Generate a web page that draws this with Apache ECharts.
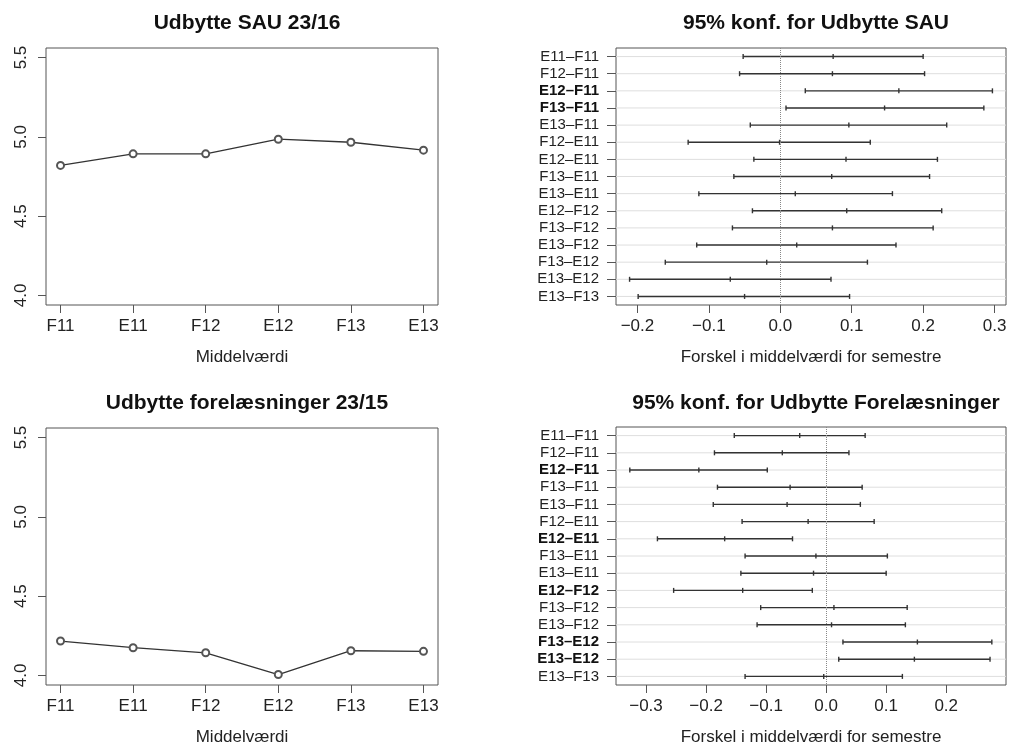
<!DOCTYPE html>
<html>
<head>
<meta charset="utf-8">
<script src="https://cdn.jsdelivr.net/npm/echarts@6/dist/echarts.min.js"></script>
<style>
html,body{margin:0;padding:0;background:#fff;}
#chart{width:1011px;height:747px;}
</style>
</head>
<body>
<div id="chart"></div>
<script>
// ---------- data ----------
const semesters = ['F11', 'E11', 'F12', 'E12', 'F13', 'E13'];
const sauMeans = [4.820, 4.893, 4.893, 4.985, 4.966, 4.916];
const lectureMeans = [4.217, 4.175, 4.143, 4.006, 4.156, 4.152];
const meanTicks = [4.0, 4.5, 5.0, 5.5];

const pairs = ['E11–F11', 'F12–F11', 'E12–F11', 'F13–F11', 'E13–F11',
               'F12–E11', 'E12–E11', 'F13–E11', 'E13–E11',
               'E12–F12', 'F13–F12', 'E13–F12',
               'F13–E12', 'E13–E12', 'E13–F13'];

const sauLower = [-0.052, -0.057, 0.035, 0.008, -0.042, -0.129, -0.037, -0.065, -0.114, -0.039, -0.067, -0.117, -0.161, -0.211, -0.199];
const sauDiff  = [0.074, 0.073, 0.166, 0.146, 0.096, -0.001, 0.092, 0.072, 0.021, 0.093, 0.073, 0.023, -0.019, -0.070, -0.050];
const sauUpper = [0.200, 0.202, 0.297, 0.285, 0.233, 0.126, 0.220, 0.209, 0.157, 0.226, 0.214, 0.162, 0.122, 0.071, 0.097];
const sauSignificant = ['E12–F11', 'F13–F11'];
const sauDiffTicks = [-0.2, -0.1, 0.0, 0.1, 0.2, 0.3];

const lecLower = [-0.153, -0.186, -0.327, -0.181, -0.188, -0.140, -0.281, -0.135, -0.142, -0.254, -0.109, -0.115, 0.028, 0.021, -0.135];
const lecDiff  = [-0.044, -0.073, -0.212, -0.060, -0.065, -0.030, -0.169, -0.017, -0.021, -0.139, 0.013, 0.009, 0.152, 0.147, -0.004];
const lecUpper = [0.065, 0.038, -0.098, 0.060, 0.057, 0.080, -0.056, 0.102, 0.100, -0.023, 0.135, 0.132, 0.276, 0.273, 0.127];
const lecSignificant = ['E12–F11', 'E12–E11', 'E12–F12', 'F13–E12', 'E13–E12'];
const lecDiffTicks = [-0.3, -0.2, -0.1, 0.0, 0.1, 0.2];

// ---------- chart ----------
const FONT = '"Liberation Sans", Arial, Helvetica, sans-serif';
const DARK = '#222';
const BOX = '#555';
const TICK_FS = 17;
const fmtNum = v => v.toFixed(1).replace('-', '\u2212');

const chart = echarts.init(document.getElementById('chart'), null, {renderer: 'canvas'});

const grids = [
  {left: 46, top: 48, width: 392, height: 257},
  {left: 616, top: 48, width: 390, height: 257},
  {left: 46, top: 428, width: 392, height: 257},
  {left: 616, top: 427, width: 390, height: 258}
].map(g => Object.assign({show: true, borderColor: BOX, borderWidth: 1, backgroundColor: 'transparent', containLabel: false}, g));

const titleStyle = {fontFamily: FONT, fontSize: 21, fontWeight: 'bold', color: '#111'};
const titles = [
  {text: 'Udbytte SAU 23/16', left: 242, top: 8},
  {text: '95% konf. for Udbytte SAU', left: 811, top: 8},
  {text: 'Udbytte forelæsninger 23/15', left: 242, top: 388},
  {text: '95% konf. for Udbytte Forelæsninger', left: 811, top: 388}
].map(t => Object.assign({textAlign: 'center', textStyle: titleStyle}, t));

const semesterPos = semesters.map((s, i) => i + 1);

function meanXAxis(gridIndex) {
  return {
    type: 'value', gridIndex, min: 0.8, max: 6.2,
    name: 'Middelværdi', nameLocation: 'middle', nameGap: 44,
    nameTextStyle: {fontFamily: FONT, fontSize: TICK_FS, color: DARK},
    axisLine: {show: false, onZero: false},
    axisTick: {show: true, inside: false, length: 8, customValues: semesterPos, lineStyle: {color: BOX}},
    axisLabel: {customValues: semesterPos, margin: 13, fontFamily: FONT, fontSize: TICK_FS, color: DARK,
      formatter: v => semesters[Math.round(v) - 1] || ''},
    splitLine: {show: false}
  };
}
function meanYAxis(gridIndex) {
  return {
    type: 'value', gridIndex, min: 3.94, max: 5.56,
    axisLine: {show: false, onZero: false},
    axisTick: {show: true, length: 8, customValues: meanTicks, lineStyle: {color: BOX}},
    axisLabel: {customValues: meanTicks, rotate: 90, margin: 16, fontFamily: FONT, fontSize: TICK_FS, color: DARK,
      formatter: v => fmtNum(v)},
    splitLine: {show: false}
  };
}
function diffXAxis(gridIndex, min, max, ticks) {
  return {
    type: 'value', gridIndex, min, max,
    name: 'Forskel i middelværdi for semestre', nameLocation: 'middle', nameGap: 44,
    nameTextStyle: {fontFamily: FONT, fontSize: TICK_FS, color: DARK},
    axisLine: {show: false, onZero: false},
    axisTick: {show: true, length: 8, customValues: ticks, lineStyle: {color: BOX}},
    axisLabel: {customValues: ticks, margin: 13, fontFamily: FONT, fontSize: TICK_FS, color: DARK,
      formatter: v => fmtNum(v)},
    splitLine: {show: false}
  };
}
function pairYAxis(gridIndex, significant) {
  return {
    type: 'category', gridIndex, inverse: true, boundaryGap: true,
    data: pairs.map(p => significant.includes(p)
      ? {value: p, textStyle: {fontWeight: 'bold', color: '#111'}}
      : {value: p}),
    axisLine: {show: false, onZero: false},
    axisTick: {show: true, alignWithLabel: true, length: 9, lineStyle: {color: BOX}},
    axisLabel: {margin: 17, fontFamily: FONT, fontSize: 15, color: DARK, interval: 0},
    splitLine: {show: false}
  };
}

function renderInterval(params, api) {
  const row = api.value(0);
  const pLo = api.coord([api.value(1), row]);
  const pMid = api.coord([api.value(2), row]);
  const pHi = api.coord([api.value(3), row]);
  const cs = params.coordSys;
  const y = pLo[1];
  const h = 2.5;
  const mark = x => ({type: 'line', shape: {x1: x, y1: y - h, x2: x, y2: y + h}, style: {stroke: '#333', lineWidth: 1.4}});
  return {
    type: 'group',
    children: [
      {type: 'line', shape: {x1: cs.x, y1: y, x2: cs.x + cs.width, y2: y}, style: {stroke: '#dedede', lineWidth: 1}},
      {type: 'line', shape: {x1: pLo[0], y1: y, x2: pHi[0], y2: y}, style: {stroke: '#333', lineWidth: 1.4}},
      mark(pLo[0]), mark(pMid[0]), mark(pHi[0])
    ]
  };
}

function intervalSeries(idx, lower, diff, upper) {
  return {
    type: 'custom', xAxisIndex: idx, yAxisIndex: idx,
    renderItem: renderInterval,
    encode: {x: [1, 2, 3], y: 0},
    data: pairs.map((p, i) => [i, lower[i], diff[i], upper[i]]),
    markLine: {
      silent: true, symbol: 'none', label: {show: false},
      lineStyle: {type: 'dotted', color: '#888', width: 1},
      data: [{xAxis: 0}]
    },
    z: 2
  };
}

function meanSeries(idx, means) {
  return {
    type: 'line', xAxisIndex: idx, yAxisIndex: idx,
    data: means.map((m, i) => [semesterPos[i], m]),
    symbol: 'emptyCircle', symbolSize: 7,
    itemStyle: {color: '#555', borderWidth: 1},
    lineStyle: {color: '#333', width: 1.3}
  };
}

chart.setOption({
  animation: false,
  backgroundColor: '#fff',
  title: titles,
  grid: grids,
  xAxis: [
    meanXAxis(0),
    diffXAxis(1, -0.230, 0.316, sauDiffTicks),
    meanXAxis(2),
    diffXAxis(3, -0.350, 0.2996, lecDiffTicks)
  ],
  yAxis: [
    meanYAxis(0),
    pairYAxis(1, sauSignificant),
    meanYAxis(2),
    pairYAxis(3, lecSignificant)
  ],
  series: [
    meanSeries(0, sauMeans),
    intervalSeries(1, sauLower, sauDiff, sauUpper),
    meanSeries(2, lectureMeans),
    intervalSeries(3, lecLower, lecDiff, lecUpper)
  ]
});
</script>
</body>
</html>
